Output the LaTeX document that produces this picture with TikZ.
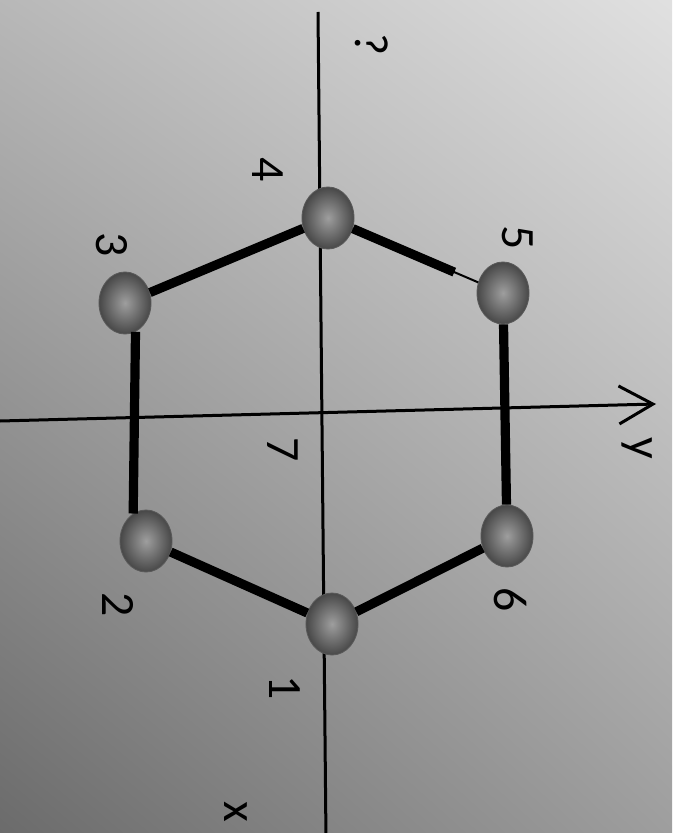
\documentclass[tikz,border=0pt]{standalone}
\usepackage{fontspec}
\setmainfont{Carlito}
\usetikzlibrary{shapes.geometric,arrows.meta,shadings}
\begin{document}
\begin{tikzpicture}[x=0.025cm,y=-0.025cm,
  atom/.style={ellipse,minimum width=1.3cm,minimum height=1.55cm,inner sep=0pt,
    shading=radial,inner color=black!38,outer color=black!72,draw=black!65,line width=0.6pt},
  bond/.style={line width=0.23cm},
  lab/.style={rotate=-90,font=\fontsize{34}{36}\selectfont},
  axis/.style={line width=0.075cm}]
\shade[upper right=black!12,upper left=black!28,lower left=black!58,lower right=black!38]
  (0,0) rectangle (672,833);
\useasboundingbox (0,0) rectangle (672,833);
% axes
\coordinate (Y1) at (0,421);
\coordinate (Y2) at (656,404);
\coordinate (X1) at (318,12);
\coordinate (X2) at (326,840);
\draw[axis](X1)--(X2);
\draw[axis,-{Straight Barb[length=0.85cm,width=0.95cm,line width=0.075cm]}](Y1)--(Y2);
% atoms
\node[atom] (C1) at (332,624){};
\node[atom] (C2) at (146,541){};
\node[atom] (C3) at (125,303){};
\node[atom] (C4) at (328,218){};
\node[atom] (C5) at (503,293){};
\node[atom] (C6) at (507,536){};
% bonds
\draw[bond](C1)--(C2);
\draw[bond](C2.115)--(C3.-70);
\draw[bond](C3)--(C4);
\draw[bond,shorten >=0.65cm](C4)--(C5);
\draw[line width=0.05cm](C4)--(C5);
\draw[bond](C5)--(C6);
\draw[bond](C6)--(C1);
% labels
\node[lab] (L1) at (285,688){1};
\node[lab] (L2) at (118,605){2};
\node[lab] (L3) at (112,245){3};
\node[lab] (L4) at (268,170){4};
\node[lab] (L5) at (518,238){5};
\node[lab] (L6) at (510,600){6};
\node[lab] (L7) at (283,450){7};
\node[lab] (LY) at (637,448){y};
\node[lab] (LZ) at (372,45){?};
\node[lab] (LX) at (236,812){x};
\end{tikzpicture}
\end{document}
